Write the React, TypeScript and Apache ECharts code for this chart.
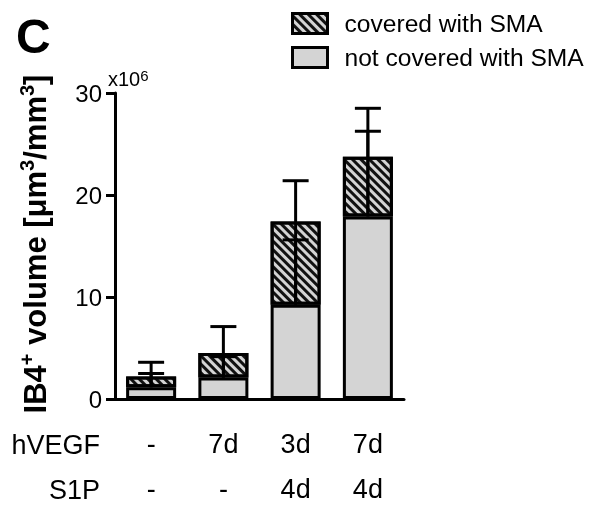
import React, { useEffect, useRef } from 'react';
import * as echarts from 'echarts';

const hVEGF = ['-', '7d', '3d', '7d'];
const S1P = ['-', '-', '4d', '4d'];
const rowLabels = ['hVEGF', 'S1P'];
const notCovered = [1.15, 2.1, 9.25, 17.9];
const covered = [1.05, 2.4, 8.15, 5.85];
const notCoveredErr = [1.35, 2.05, 6.35, 8.35];
const totalErr = [1.4, 2.6, 4.0, 4.75];
const yMin = 0;
const yMax = 30;
const yInterval = 10;
const seriesNames = ['covered with SMA', 'not covered with SMA'];

export default function App() {
  const ref = useRef<HTMLDivElement>(null);
  useEffect(() => {
    const chart = echarts.init(ref.current!, null, { renderer: 'svg' });
    const font = '"Liberation Sans", Arial, sans-serif';
    const categories = hVEGF.map((h, i) => `${h}|${S1P[i]}`);
    const gray = '#d4d4d4';
    const hatch = {
      symbol: 'rect',
      symbolSize: 1,
      color: '#111',
      dashArrayX: [1, 0],
      dashArrayY: [2.5, 2.5],
      rotation: Math.PI / 4,
    };
    const errRender = (params: any, api: any) => {
      const x = api.value(0);
      const p0 = api.coord([x, api.value(1)]);
      const p1 = api.coord([x, api.value(2)]);
      const hw = 13;
      return {
        type: 'group',
        children: [
          { type: 'line', shape: { x1: p0[0], y1: p0[1], x2: p1[0], y2: p1[1] }, style: { stroke: '#000', lineWidth: 3 } },
          { type: 'line', shape: { x1: p1[0] - hw, y1: p1[1], x2: p1[0] + hw, y2: p1[1] }, style: { stroke: '#000', lineWidth: 3 } },
        ],
      };
    };
    const ncErrData = notCovered.map((v, i) => [i, v, v + notCoveredErr[i]]);
    const totErrData = notCovered.map((v, i) => [i, v, v + covered[i] + totalErr[i]]);

    chart.setOption({
      animation: false,
      textStyle: { fontFamily: font },
      grid: { left: 115, right: 188, top: 93, bottom: 111, containLabel: false },
      legend: {
        orient: 'vertical',
        left: 291,
        top: 11,
        padding: 0,
        itemWidth: 35,
        itemHeight: 20,
        itemGap: 9,
        icon: 'rect',
        itemStyle: { borderColor: '#000', borderWidth: 3 },
        textStyle: { fontSize: 24.6, color: '#000', fontFamily: font, padding: [0, 0, 0, 12] },
        data: seriesNames,
      },
      xAxis: {
        type: 'category',
        data: categories,
        axisLine: { lineStyle: { color: '#000', width: 3 } },
        axisTick: { alignWithLabel: true, length: 7, lineStyle: { color: '#000', width: 2 } },
        axisLabel: {
          margin: 22,
          fontSize: 27,
          color: '#000',
          fontFamily: font,
          lineHeight: 45,
          formatter: (v: string) => v.split('|').join('\n'),
        },
      },
      yAxis: {
        type: 'value',
        min: yMin,
        max: yMax,
        interval: yInterval,
        splitLine: { show: false },
        axisLine: { show: true, lineStyle: { color: '#000', width: 3 } },
        axisTick: { show: true, length: 9, lineStyle: { color: '#000', width: 3 } },
        axisLabel: { fontSize: 24, color: '#000', fontFamily: font, margin: 13 },
      },
      graphic: [
        {
          type: 'text',
          left: 16,
          top: 12,
          style: { text: 'C', font: `bold 48px ${font}`, fill: '#000' },
        },
        {
          type: 'text',
          x: 108,
          y: 68,
          style: {
            text: '{a|x10}{s|6}',
            fill: '#000',
            rich: {
              a: { fontSize: 20, fontFamily: font, fill: '#000', verticalAlign: 'bottom', lineHeight: 21 },
              s: { fontSize: 15, fontFamily: font, fill: '#000', verticalAlign: 'top' },
            },
          },
        },
        {
          type: 'text',
          x: 35,
          y: 244,
          rotation: Math.PI / 2,
          style: {
            text: '{b|IB4}{s|+}{b| volume [μm}{s|3}{b|/mm}{s|3}{b|]}',
            align: 'center',
            verticalAlign: 'middle',
            fill: '#000',
            rich: {
              b: { fontSize: 31, fontWeight: 'bold', fontFamily: font, fill: '#000', lineHeight: 36 },
              s: { fontSize: 20, fontWeight: 'bold', fontFamily: font, fill: '#000', verticalAlign: 'top' },
            },
          },
        },
        ...rowLabels.map((t, i) => ({
          type: 'text',
          x: 100,
          y: 445 + i * 45,
          style: { text: t, font: `27px ${font}`, fill: '#000', align: 'right', verticalAlign: 'middle' },
        })),
      ],
      series: [
        {
          name: seriesNames[1],
          type: 'bar',
          stack: 'total',
          barWidth: 50,
          data: notCovered,
          itemStyle: { color: gray, borderColor: '#000', borderWidth: 3 },
          z: 2,
        },
        {
          name: seriesNames[0],
          type: 'bar',
          stack: 'total',
          barWidth: 50,
          data: covered,
          itemStyle: { color: gray, borderColor: '#000', borderWidth: 3, decal: hatch },
          z: 2,
        },
        {
          name: 'err1',
          type: 'custom',
          renderItem: errRender,
          data: ncErrData,
          z: 5,
        },
        {
          name: 'err2',
          type: 'custom',
          renderItem: errRender,
          data: totErrData,
          z: 5,
        },
      ],
    });
    return () => chart.dispose();
  }, []);
  return <div ref={ref} style={{ position: 'fixed', left: 0, top: 0, width: 592, height: 511 }} />;
}
